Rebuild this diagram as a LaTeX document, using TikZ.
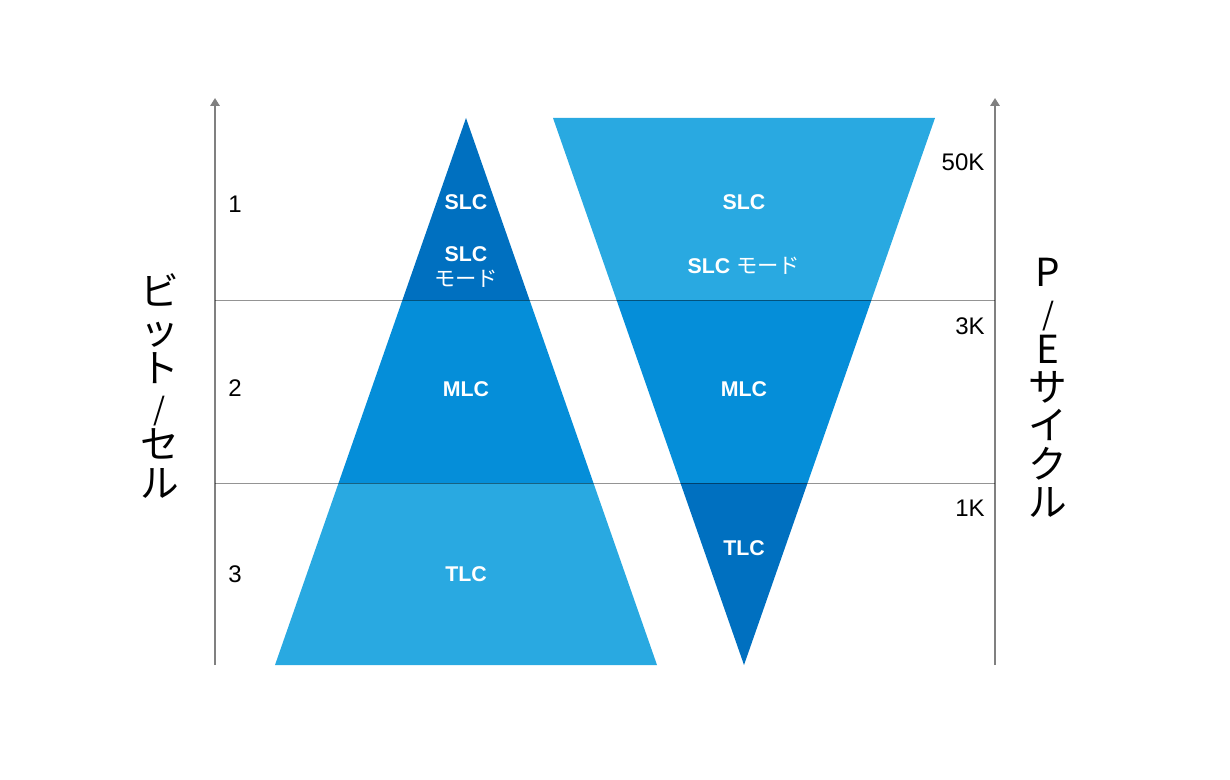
\documentclass[tikz,border=0pt]{standalone}
\usepackage{fontspec}
\setmainfont{Liberation Sans}
\newfontfamily\jpfont{Noto Sans CJK JP}
\usetikzlibrary{arrows.meta}
\definecolor{cdark}{HTML}{0070C0}
\definecolor{cmid}{HTML}{058ED9}
\definecolor{clight}{HTML}{29A9E1}
\definecolor{caxis}{HTML}{808080}
\newcommand{\vslash}{{\fontsize{23}{28.7}\selectfont /}}
\tikzset{
  axisline/.style={draw=caxis,line width=2.2pt,-{Triangle[width=7pt,length=6pt]}},
  sepline/.style={draw=black,draw opacity=0.42,line width=1pt},
  inlabel/.style={text=white,font=\fontsize{16}{18}\selectfont\bfseries,align=center,inner sep=0pt},
  numlabel/.style={text=black,font=\fontsize{18}{20}\selectfont,inner sep=0pt},
  vertlabel/.style={text=black,font=\jpfont\fontsize{29}{28.7}\selectfont,align=center,inner sep=0pt}
}
\begin{document}
\begin{tikzpicture}[x=0.75pt,y=-0.75pt]
\useasboundingbox (0,0) rectangle (1230,780);
% left triangle
\begin{scope}
\clip (466,118) -- (657,665) -- (275,665) -- cycle;
\fill[cdark] (200,100) rectangle (1000,300);
\fill[cmid] (200,300) rectangle (1000,483);
\fill[clight] (200,483) rectangle (1000,670);
\end{scope}
% right triangle
\begin{scope}
\clip (553,118) -- (935,118) -- (744,665) -- cycle;
\fill[clight] (200,100) rectangle (1000,300);
\fill[cmid] (200,300) rectangle (1000,483);
\fill[cdark] (200,483) rectangle (1000,670);
\end{scope}
% axes
\coordinate (la0) at (215,665);
\coordinate (la1) at (215,98);
\coordinate (ra0) at (995,665);
\coordinate (ra1) at (995,98);
\draw[axisline] (la0) -- (la1);
\draw[axisline] (ra0) -- (ra1);
% separators
\coordinate (s1a) at (215,300.5);
\coordinate (s1b) at (995,300.5);
\coordinate (s2a) at (215,483.5);
\coordinate (s2b) at (995,483.5);
\draw[sepline] (s1a) -- (s1b);
\draw[sepline] (s2a) -- (s2b);
% inner labels left
\node[inlabel] (lslc) at (466,202) {SLC};
\node[inlabel] (lslcm) at (466,254) {SLC};
\node[inlabel,font=\jpfont\fontsize{16}{18}\selectfont] (lmode) at (466,279) {モード};
\node[inlabel] (lmlc) at (466,389) {MLC};
\node[inlabel] (ltlc) at (466,574) {TLC};
% inner labels right
\node[inlabel] (rslc) at (744,202) {SLC};
\node[inlabel] (rslcm) at (744,266) {SLC {\jpfont\mdseries モード}};
\node[inlabel] (rmlc) at (744,389) {MLC};
\node[inlabel] (rtlc) at (744,548) {TLC};
% numbers
\node[numlabel] (n1) at (235,204) {1};
\node[numlabel] (n2) at (235,388) {2};
\node[numlabel] (n3) at (235,574) {3};
\node[numlabel] (k50) at (963,162) {50K};
\node[numlabel] (k3) at (970,326) {3K};
\node[numlabel] (k1) at (970,508) {1K};
% vertical titles
\node[vertlabel] (ltitle) at (160,386) {ビ\\ッ\\ト\\\vslash\\セ\\ル};
\node[vertlabel] (rtitle) at (1048,388) {P\\\vslash\\E\\サ\\イ\\ク\\ル};
\end{tikzpicture}
\end{document}
